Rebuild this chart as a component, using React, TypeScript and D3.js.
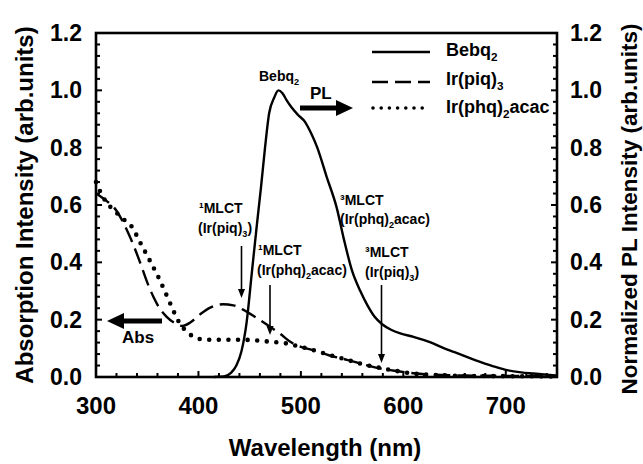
import * as d3 from "d3";

// Bebq2 photoluminescence (right axis)
const bebqWl = [415, 425, 432, 437, 442, 447, 452, 457, 461, 465, 469, 474, 478, 482, 486, 491, 497, 504, 510, 516, 525, 535, 542, 550, 558, 565, 572, 579, 588, 597, 610, 626, 640, 650, 665, 675, 690, 701, 715, 727, 740, 750];
const bebqPl = [0, 0.002, 0.015, 0.04, 0.09, 0.19, 0.36, 0.53, 0.66, 0.8, 0.92, 0.975, 1.0, 0.99, 0.966, 0.94, 0.915, 0.89, 0.85, 0.8, 0.7, 0.59, 0.48, 0.37, 0.3, 0.25, 0.21, 0.185, 0.165, 0.152, 0.14, 0.122, 0.1, 0.087, 0.066, 0.053, 0.035, 0.024, 0.016, 0.012, 0.008, 0.005];

// Ir(piq)3 absorption
const piqWl = [300, 310, 320, 325, 333, 343, 350, 356, 362, 369, 376, 384, 392, 402, 412, 424, 434, 444, 455, 470, 480, 490, 500, 512, 528, 545, 560, 577, 595, 610, 630, 660, 700, 750];
const piqAbs = [0.64, 0.615, 0.58, 0.55, 0.49, 0.4, 0.33, 0.28, 0.24, 0.21, 0.19, 0.178, 0.19, 0.22, 0.243, 0.254, 0.25, 0.234, 0.21, 0.175, 0.15, 0.122, 0.105, 0.094, 0.075, 0.06, 0.045, 0.03, 0.02, 0.013, 0.008, 0.005, 0.004, 0.003];

// Ir(phq)2acac absorption
const phqWl = [300, 305, 310, 318, 326, 335, 343, 352, 362, 372, 377, 383, 389, 398, 410, 425, 440, 455, 470, 486, 500, 512, 528, 545, 560, 577, 595, 610, 630, 660, 700, 750];
const phqAbs = [0.68, 0.64, 0.61, 0.58, 0.553, 0.524, 0.47, 0.41, 0.34, 0.26, 0.22, 0.18, 0.158, 0.135, 0.13, 0.13, 0.13, 0.128, 0.123, 0.117, 0.105, 0.094, 0.077, 0.06, 0.045, 0.032, 0.02, 0.012, 0.007, 0.004, 0.003, 0.002];

const xTicks = [300, 400, 500, 600, 700];
const yTicks = [0, 0.2, 0.4, 0.6, 0.8, 1.0, 1.2];

const FONT = "'Liberation Sans', Arial, sans-serif";

const Sub = ({ children, size }: { children: string; size: number }) => (
  <>
    <tspan dy={size * 0.3} fontSize={size * 0.65}>{children}</tspan>
  </>
);

export default function App() {
  const x = d3.scaleLinear().domain([300, 750]).range([96, 557]);
  const yL = d3.scaleLinear().domain([0, 1.2]).range([377, 33]);
  const yR = d3.scaleLinear().domain([0, 1.2]).range([377, 33]);

  const mkLine = (wl: number[], y: d3.ScaleLinear<number, number>) =>
    d3
      .line<number>()
      .x((_, i) => x(wl[i]))
      .y((d) => y(d))
      .curve(d3.curveMonotoneX);

  const minorX = d3.range(300, 751, 20);
  const minorY = d3.range(0, 1.2001, 0.04);

  const x0 = x.range()[0];
  const x1 = x.range()[1];
  const yb = yL.range()[0];
  const yt = yL.range()[1];

  const annArrow = (ax: number, ya: number, yb2: number) => (
    <g>
      <line x1={ax} x2={ax} y1={ya} y2={yb2 - 7} stroke="#000" strokeWidth={1.6} />
      <path d={`M${ax - 3.5},${yb2 - 9} L${ax + 3.5},${yb2 - 9} L${ax},${yb2} Z`} fill="#000" />
    </g>
  );

  const fs = 14;

  return (
    <svg
      width={643}
      height={464}
      style={{ position: "absolute", left: 0, top: 0, background: "#fff" }}
      fontFamily={FONT}
    >
      <rect width={643} height={464} fill="#fff" />

      {/* curves */}
      <path d={mkLine(piqWl, yL)(piqAbs) || ""} fill="none" stroke="#000" strokeWidth={2.4} strokeDasharray="16 7" />
      <path d={mkLine(phqWl, yL)(phqAbs) || ""} fill="none" stroke="#000" strokeWidth={4.6} strokeDasharray="0 9.6" strokeLinecap="round" />
      <path d={mkLine(bebqWl, yR)(bebqPl) || ""} fill="none" stroke="#000" strokeWidth={2.4} strokeLinejoin="round" />

      {/* frame */}
      <rect x={x0} y={yt} width={x1 - x0} height={yb - yt} fill="none" stroke="#000" strokeWidth={2.6} />

      {/* ticks */}
      {minorX.map((v) => (
        <line key={"bx" + v} x1={x(v)} x2={x(v)} y1={yb} y2={yb - (v % 100 === 0 ? 6 : 4)} stroke="#000" strokeWidth={2} />
      ))}
      {minorY.map((v, i) => (
        <g key={"my" + i}>
          <line x1={x0} x2={x0 + (i % 5 === 0 ? 6 : 4)} y1={yL(v)} y2={yL(v)} stroke="#000" strokeWidth={2} />
          <line x1={x1} x2={x1 - (i % 5 === 0 ? 6 : 4)} y1={yR(v)} y2={yR(v)} stroke="#000" strokeWidth={2} />
        </g>
      ))}

      {/* tick labels */}
      {yTicks.map((v) => (
        <g key={"yl" + v} fontSize={23} fontWeight="bold">
          <text x={82} y={yL(v)} textAnchor="end" dominantBaseline="central">{v.toFixed(1)}</text>
          <text x={570} y={yR(v)} textAnchor="start" dominantBaseline="central">{v.toFixed(1)}</text>
        </g>
      ))}
      {xTicks.map((v) => (
        <text key={"xl" + v} x={x(v)} y={414} textAnchor="middle" fontSize={24} fontWeight="bold">{v}</text>
      ))}

      {/* axis titles */}
      <text x={325} y={456} textAnchor="middle" fontSize={24} fontWeight="bold">Wavelength (nm)</text>
      <text transform="translate(24,205) rotate(-90)" textAnchor="middle" dominantBaseline="central" fontSize={24} fontWeight="bold">
        Absorption Intensity (arb.units)
      </text>
      <text transform="translate(629,209) rotate(-90)" textAnchor="middle" dominantBaseline="central" fontSize={22.5} fontWeight="bold">
        Normalized PL Intensity (arb.units)
      </text>

      {/* legend */}
      <g fontSize={18} fontWeight="bold">
        <line x1={372} x2={430} y1={52} y2={52} stroke="#000" strokeWidth={2.4} />
        <text x={446} y={56}>Bebq<Sub size={18}>2</Sub></text>
        <line x1={372} x2={430} y1={82} y2={82} stroke="#000" strokeWidth={2.4} strokeDasharray="16 7" />
        <text x={446} y={85}>Ir(piq)<Sub size={18}>3</Sub></text>
        <line x1={373} x2={430} y1={108} y2={108} stroke="#000" strokeWidth={3.6} strokeDasharray="0 8.2" strokeLinecap="round" />
        <text x={446} y={113}>
          Ir(phq)<Sub size={18}>2</Sub>
          <tspan dy={-5.4}>acac</tspan>
        </text>
      </g>

      {/* annotations */}
      <g fontSize={fs} fontWeight="bold">
        <text x={259} y={81}>Bebq<Sub size={fs}>2</Sub></text>

        <text x={310} y={99} fontSize={17}>PL</text>
        <line x1={300} x2={338} y1={108} y2={108} stroke="#000" strokeWidth={5} />
        <path d="M336,100 L353,108 L336,116 Z" fill="#000" />

        <text x={122} y={343} fontSize={17}>Abs</text>
        <line x1={162} x2={122} y1={321} y2={321} stroke="#000" strokeWidth={5} />
        <path d="M124,313 L107,321 L124,329 Z" fill="#000" />

        <text x={199} y={213}>¹MLCT</text>
        <text x={198} y={233}>(Ir(piq)<Sub size={fs}>3</Sub><tspan dy={-4.2}>)</tspan></text>
        {annArrow(241.5, 246, 298)}

        <text x={258} y={255}>¹MLCT</text>
        <text x={257} y={275}>(Ir(phq)<Sub size={fs}>2</Sub><tspan dy={-4.2}>acac)</tspan></text>
        {annArrow(270, 285, 335)}

        <text x={340} y={205}>³MLCT</text>
        <text x={340} y={224}>(Ir(phq)<Sub size={fs}>2</Sub><tspan dy={-4.2}>acac)</tspan></text>

        <text x={365} y={257}>³MLCT</text>
        <text x={365} y={277}>(Ir(piq)<Sub size={fs}>3</Sub><tspan dy={-4.2}>)</tspan></text>
        {annArrow(381.5, 285, 363)}
      </g>
    </svg>
  );
}
